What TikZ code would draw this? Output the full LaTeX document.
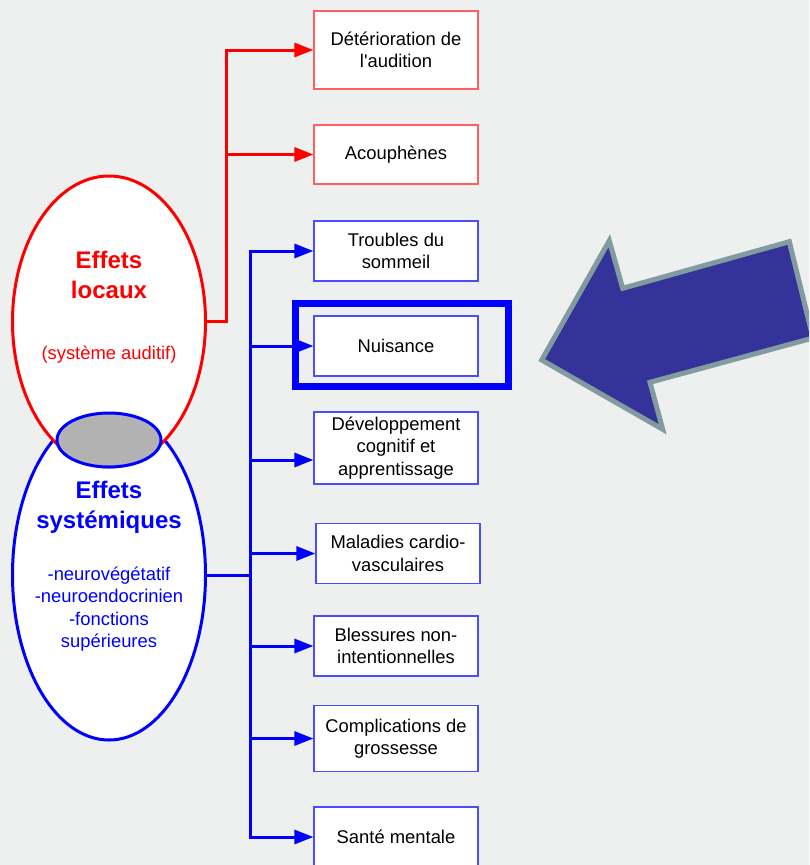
\documentclass[tikz,border=0pt]{standalone}
\usepackage{fontspec}
\setmainfont{Liberation Sans}
\usetikzlibrary{arrows.meta,shapes.geometric}
\definecolor{bg}{RGB}{238,240,240}
\definecolor{boxred}{RGB}{255,95,95}
\definecolor{boxblue}{RGB}{75,75,255}
\definecolor{arrfill}{RGB}{51,51,153}
\definecolor{arredge}{RGB}{130,155,160}
\definecolor{pureblue}{RGB}{0,0,255}
\begin{document}
\begin{tikzpicture}[x=1pt,y=-1pt,
  box/.style={draw, line width=1.2pt, fill=white, minimum width=164pt, align=center, inner sep=0pt, font=\fontsize{18.4}{22.3}\selectfont},
  rbox/.style={box, draw=boxred},
  bbox/.style={box, draw=boxblue},
  conn/.style={line width=3pt, line join=miter},
  rline/.style={conn, draw=red, -{Triangle[length=19pt,width=14pt]}},
  bline/.style={conn, draw=pureblue, -{Triangle[length=19pt,width=14pt]}},
  oval/.style={ellipse, line width=3pt, fill=white, inner sep=0pt},
]
\useasboundingbox (0,0) rectangle (809,865);
\fill[bg] (0,0) rectangle (809,865);
\begin{scope}
\clip (0,0) rectangle (809,865);

% ellipses
\node[oval, draw=pureblue, minimum width=193pt, minimum height=330pt] (sys) at (109,575) {};
\node[oval, draw=red, minimum width=193pt, minimum height=291pt] (loc) at (109,321.5) {};
\node[ellipse, draw=pureblue, line width=3pt, fill=gray!60, minimum width=104pt, minimum height=54pt, inner sep=0pt] (mid) at (109,440) {};

\node[text=red, align=center, font=\fontsize{24}{30}\bfseries\selectfont] (loct) at (109,275) {Effets\\locaux};
\node[text=red, font=\fontsize{18.4}{22.3}\selectfont] (locs) at (109,355) {(système auditif)};
\node[text=pureblue, align=center, font=\fontsize{24}{30}\bfseries\selectfont] (syst) at (109,507) {Effets\\systémiques};
\node[text=pureblue, align=center, font=\fontsize{18.4}{22.3}\selectfont] (syss) at (109,609) {-neurovégétatif\\-neuroendocrinien\\-fonctions\\supérieures};

% boxes
\node[rbox, minimum height=78pt] (det) at (396,50) {Détérioration de\\l\textquotesingle audition};
\node[rbox, minimum height=59pt] (aco) at (396,154.5) {Acouphènes};
\node[bbox, minimum height=60pt] (tro) at (396,251) {Troubles du\\sommeil};
\node[bbox, minimum height=60pt] (nui) at (396,346) {Nuisance};
\node[bbox, minimum height=72pt] (dev) at (396,448) {Développement\\cognitif et\\apprentissage};
\node[bbox, minimum height=60pt] (mal) at (398,553.5) {Maladies cardio-\\vasculaires};
\node[bbox, minimum height=60pt] (ble) at (396,646) {Blessures non-\\intentionnelles};
\node[bbox, minimum height=66pt] (com) at (396,738.5) {Complications de\\grossesse};
\node[bbox, minimum height=60pt] (san) at (396,837) {Santé mentale};

% highlight frame
\draw[pureblue, line width=7pt] (295.5,303.5) rectangle (508,386.5);

% red connectors
\coordinate (rtop) at (226,50);
\draw[rline] (loc.east) -| (rtop) -- (det.west);
\draw[rline] (rtop |- aco.west) -- (aco.west);

% blue connectors
\coordinate (btop) at (250,251);
\coordinate (bbot) at (250,837);
\coordinate (bdev) at (250,460);
\draw[bline] (bbot) -- (btop) -- (tro.west);
\draw[bline] (btop) -- (bbot) -- (san.west);
\draw[conn, draw=pureblue] (sys.east) -- (sys.east -| btop);
\draw[bline] (btop |- nui.west) -- (nui.west);
\draw[bline] (bdev) -- (bdev -| dev.west);
\draw[bline] (btop |- mal.west) -- (mal.west);
\draw[bline] (btop |- ble.west) -- (ble.west);
\draw[bline] (btop |- com.west) -- (com.west);

% big arrow
\draw[fill=arrfill, draw=arredge, line width=5pt, line join=miter]
  (541.7,360) -- (609.3,240.7) -- (622.7,288.3) -- (789.3,241.7) -- (813,338) -- (650,382.3) -- (662.7,429.3) -- cycle;
\end{scope}
\end{tikzpicture}
\end{document}
